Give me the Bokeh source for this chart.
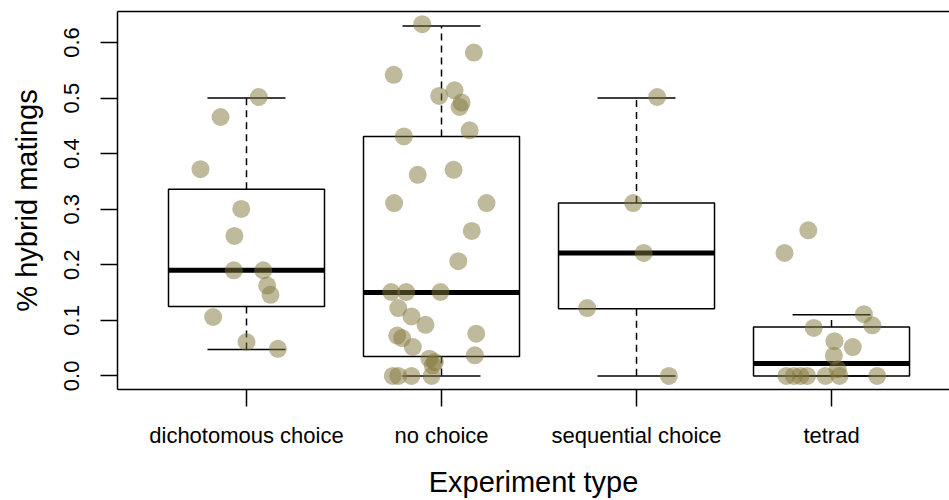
from bokeh.plotting import figure
from bokeh.models import (FixedTicker, LinearAxis, ColumnDataSource, Range1d,
                          PrintfTickFormatter)
from bokeh.embed import file_html
from bokeh.resources import INLINE

# Experiment types along the x axis
categories = ["dichotomous choice", "no choice", "sequential choice", "tetrad"]

# Box summaries per experiment type: lower whisker, Q1, median, Q3, upper whisker
whisker_low = [0.0475, 0.0, 0.0, 0.0]
q1 = [0.125, 0.035, 0.121, 0.0]
median = [0.19, 0.15, 0.221, 0.0225]
q3 = [0.336, 0.431, 0.311, 0.088]
whisker_high = [0.5, 0.63, 0.5, 0.11]

# Individual studies: proportion of hybrid matings and horizontal jitter
dichotomous_vals = [0.502, 0.466, 0.372, 0.3005, 0.252, 0.190, 0.190, 0.1625,
                    0.146, 0.106, 0.061, 0.0488]
dichotomous_jit = [0.063, -0.133, -0.236, -0.027, -0.062, -0.065, 0.086, 0.106,
                   0.123, -0.171, 0.0, 0.161]

nochoice_vals = [0.633, 0.582, 0.542, 0.514, 0.504, 0.492, 0.484, 0.442, 0.431,
                 0.371, 0.362, 0.311, 0.311, 0.261, 0.2065, 0.151, 0.151, 0.151,
                 0.122, 0.107, 0.092, 0.076, 0.0725, 0.068, 0.052, 0.037, 0.031,
                 0.025, 0.019, 0.0, 0.0, 0.0, 0.0]
nochoice_jit = [-0.099, 0.166, -0.245, 0.067, -0.012, 0.103, 0.093, 0.144, -0.193,
                0.062, -0.122, -0.243, 0.231, 0.155, 0.086, -0.258, -0.181, -0.005,
                -0.222, -0.154, -0.082, 0.178, -0.227, -0.202, -0.147, 0.171, -0.062,
                -0.034, -0.045, -0.25, -0.222, -0.154, -0.051]

sequential_vals = [0.502, 0.311, 0.2214, 0.122, 0.0]
sequential_jit = [0.106, -0.017, 0.037, -0.253, 0.166]

tetrad_vals = [0.262, 0.2214, 0.111, 0.091, 0.0863, 0.0625, 0.0518, 0.0363,
               0.0118, 0.0, 0.0, 0.0, 0.0, 0.0, 0.0, 0.0]
tetrad_jit = [-0.119, -0.241, 0.166, 0.209, -0.091, 0.015, 0.109, 0.012, 0.032,
              -0.232, -0.193, -0.159, -0.125, -0.031, 0.041, 0.234]

y_ticks = [0.0, 0.1, 0.2, 0.3, 0.4, 0.5, 0.6]

FONT = "Liberation Sans"
BOX_HALF = 0.4
CAP_HALF = 0.2

positions = list(range(1, len(categories) + 1))

p = figure(width=949, height=500, output_backend="svg", toolbar_location=None,
           x_range=Range1d(0.3385, 4.605), y_range=Range1d(-0.0245, 0.6559),
           min_border_left=117, min_border_right=0, min_border_top=11,
           min_border_bottom=108)
p.outline_line_color = None
p.grid.visible = False
p.background_fill_color = "white"
p.border_fill_color = "white"

# Axes
for ax in (p.xaxis[0], p.yaxis[0]):
    ax.axis_line_width = 1.5
    ax.axis_line_color = "black"
    ax.major_tick_line_width = 1.5
    ax.major_tick_line_color = "black"
    ax.major_tick_out = 17
    ax.major_tick_in = 0
    ax.minor_tick_line_color = None
    ax.major_label_text_font = FONT
    ax.major_label_text_font_size = "22px"
    ax.major_label_text_color = "black"
    ax.axis_label_text_font = FONT
    ax.axis_label_text_font_size = "29px"
    ax.axis_label_text_font_style = "normal"
    ax.axis_label_text_color = "black"

p.xaxis.ticker = FixedTicker(ticks=positions)
p.xaxis.major_label_overrides = {i: c for i, c in zip(positions, categories)}
p.xaxis.major_label_standoff = 16
p.xaxis.axis_label = "Experiment type"
p.xaxis.axis_label_standoff = 15

p.yaxis.ticker = FixedTicker(ticks=y_ticks)
p.yaxis.formatter = PrintfTickFormatter(format="%.1f")
p.yaxis.major_label_orientation = "vertical"
p.yaxis.major_label_standoff = 21
p.yaxis.axis_label = "% hybrid matings"
p.yaxis.axis_label_standoff = 19

# Top border of the plotting frame
top = LinearAxis(ticker=FixedTicker(ticks=[]), axis_line_width=1.5,
                 axis_line_color="black", major_label_text_font_size="0px",
                 minor_tick_line_color=None, major_tick_line_color=None)
p.add_layout(top, "above")

# Boxes
src = ColumnDataSource(dict(
    x=positions,
    left=[x - BOX_HALF for x in positions],
    right=[x + BOX_HALF for x in positions],
    cap_l=[x - CAP_HALF for x in positions],
    cap_r=[x + CAP_HALF for x in positions],
    lo=whisker_low, q1=q1, med=median, q3=q3, hi=whisker_high,
))

p.segment(x0="x", x1="x", y0="q3", y1="hi", source=src, line_color="black",
          line_width=1.5, line_dash="7 5")
p.segment(x0="x", x1="x", y0="q1", y1="lo", source=src, line_color="black",
          line_width=1.5, line_dash="7 5")
p.segment(x0="cap_l", x1="cap_r", y0="hi", y1="hi", source=src,
          line_color="black", line_width=1.5)
p.segment(x0="cap_l", x1="cap_r", y0="lo", y1="lo", source=src,
          line_color="black", line_width=1.5)
p.quad(left="left", right="right", bottom="q1", top="q3", source=src,
       fill_color=None, line_color="black", line_width=1.5)
p.segment(x0="left", x1="right", y0="med", y1="med", source=src,
          line_color="black", line_width=5, line_cap="butt")

# Jittered study points
groups = [(dichotomous_vals, dichotomous_jit), (nochoice_vals, nochoice_jit),
          (sequential_vals, sequential_jit), (tetrad_vals, tetrad_jit)]
px, py = [], []
for pos, (vals, jit) in zip(positions, groups):
    for v, j in zip(vals, jit):
        px.append(pos + j)
        py.append(v)

p.scatter(x=px, y=py, size=18, fill_color=(129, 117, 58), fill_alpha=0.5,
          line_color=None)

open("out.html", "w").write(file_html(p, INLINE))
